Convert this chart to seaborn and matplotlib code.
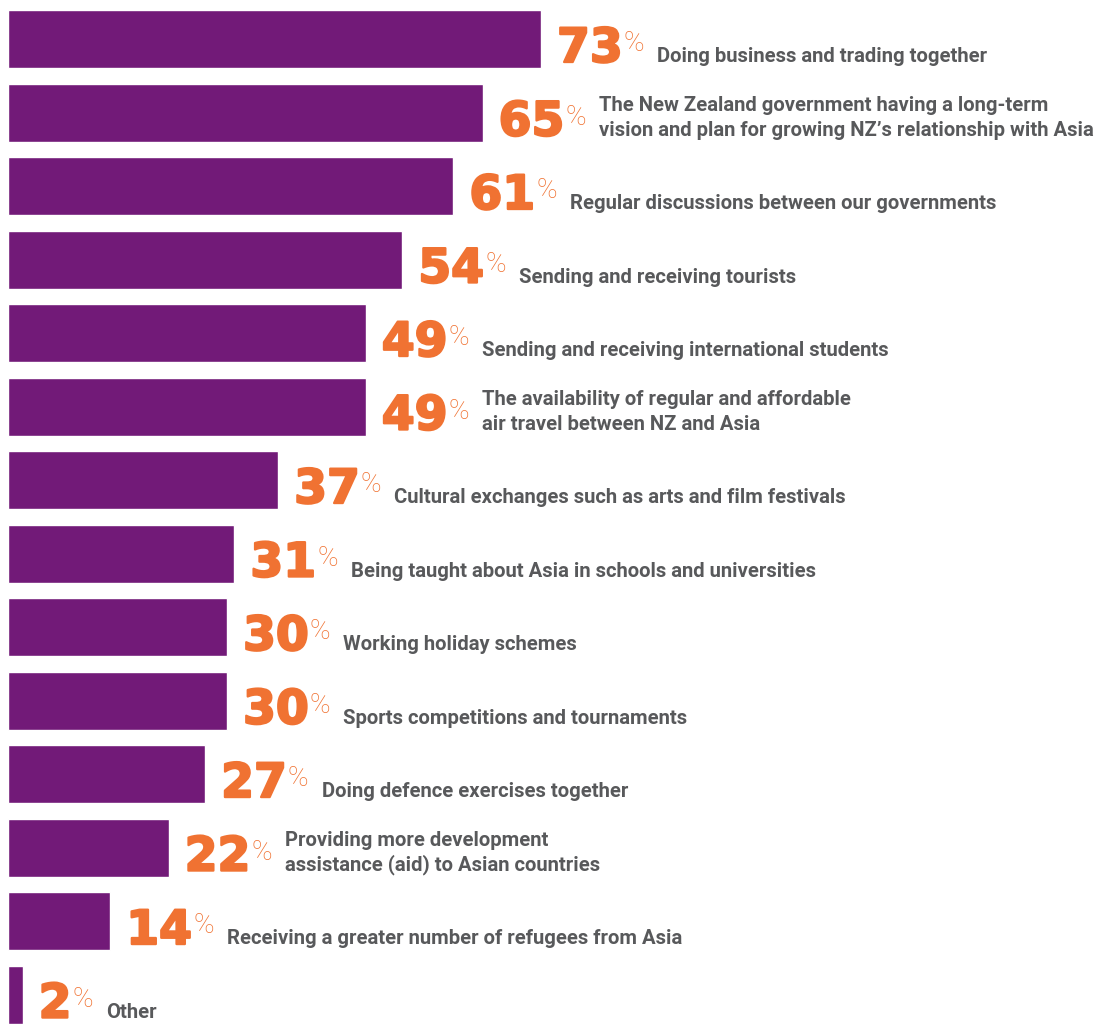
import matplotlib
matplotlib.use("Agg")
import matplotlib.pyplot as plt
import matplotlib.patheffects as pe
import seaborn as sns
import pandas as pd

# Survey items and the share of respondents choosing each one
items = [
    "Doing business and trading together",
    "The New Zealand government having a long-term\nvision and plan for growing NZ\u2019s relationship with Asia",
    "Regular discussions between our governments",
    "Sending and receiving tourists",
    "Sending and receiving international students",
    "The availability of regular and affordable\nair travel between NZ and Asia",
    "Cultural exchanges such as arts and film festivals",
    "Being taught about Asia in schools and universities",
    "Working holiday schemes",
    "Sports competitions and tournaments",
    "Doing defence exercises together",
    "Providing more development\nassistance (aid) to Asian countries",
    "Receiving a greater number of refugees from Asia",
    "Other",
]
percents = [73, 65, 61, 54, 49, 49, 37, 31, 30, 30, 27, 22, 14, 2]

PURPLE = "#721A78"
ORANGE = "#F07232"
GREY = "#58595B"

df = pd.DataFrame({"item": items, "pct": percents})

sns.set_theme(style="white")
plt.rcParams["font.family"] = ["Roboto", "DejaVu Sans"]

fig = plt.figure(figsize=(11.04, 10.24), dpi=100)
ax = fig.add_axes([0, 0, 1, 1])

sns.barplot(data=df, x="pct", y="item", color=PURPLE, saturation=1,
            width=0.79, orient="h", ax=ax)

ax.set_xlim(-1.1, 150.1)
ax.set_ylim(13.40, -0.531)
ax.axis("off")

heavy = [pe.withStroke(linewidth=1.6, foreground=ORANGE)]

for i, (label, v) in enumerate(zip(items, percents)):
    num = ax.annotate(str(v), xy=(v, i), xytext=(16, -23),
                      textcoords="offset pixels", ha="left", va="baseline",
                      fontsize=34, fontweight="bold", color=ORANGE,
                      family=["DejaVu Sans"], annotation_clip=False,
                      path_effects=heavy)
    pct = ax.annotate("%", xy=(1, 1), xycoords=num, xytext=(1, -3),
                      textcoords="offset pixels", ha="left", va="top",
                      fontsize=20, fontweight="light", color=ORANGE,
                      annotation_clip=False)
    lines = label.split("\n")
    for k, line in enumerate(reversed(lines)):
        ax.annotate(line, xy=(1, i), xycoords=(pct, "data"),
                    xytext=(13, -23 + 25 * k), textcoords="offset pixels",
                    ha="left", va="baseline", fontsize=14.6,
                    fontweight="bold", color=GREY, annotation_clip=False)

fig.savefig("out.png", dpi=100, facecolor="white")
